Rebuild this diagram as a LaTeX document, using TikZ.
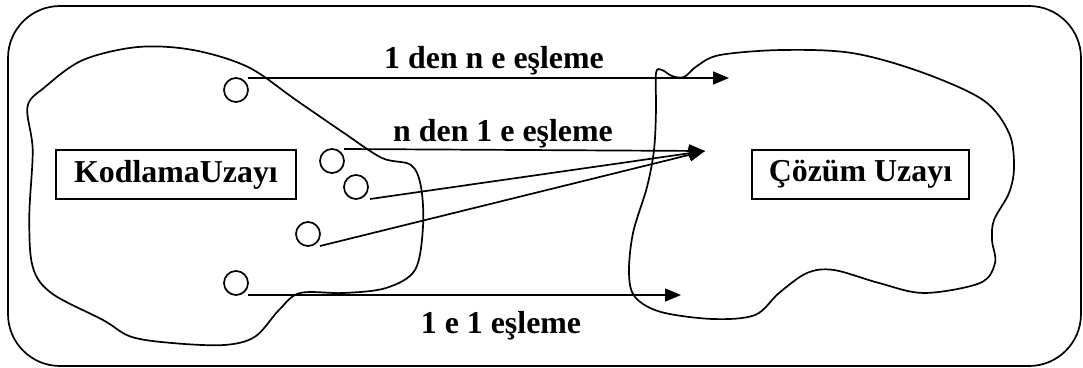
\documentclass[tikz,border=0pt]{standalone}
\usepackage{fontspec}
\setmainfont{Liberation Serif}
\usetikzlibrary{arrows.meta}
\begin{document}
\begin{tikzpicture}[x=1bp,y=-1bp,
  line width=1.7bp,
  lbl/.style={font=\fontsize{32}{36}\selectfont\bfseries, inner sep=0},
  box/.style={draw, lbl, minimum height=49bp, outer sep=0},
  dot/.style={draw, circle, minimum size=24bp, inner sep=0, outer sep=0},
  arr/.style={-{Triangle[length=16bp,width=13bp]}},
  blob/.style={smooth cycle, tension=0.55}]
\useasboundingbox (0,0) rectangle (1083,367);
% outer frame
\draw[rounded corners=52bp] (8,6) rectangle (1081,366);
% left blob (coding space)
\draw plot[blob] coordinates {
 (27.5,106.7) (32.7,150) (29.3,216.7) (32.7,266.7) (51.7,293.3) (103,320)
 (131,336.7) (172,343) (224,345) (255,336.7) (279,310) (300,293) (344,293)
 (386,288) (415,270) (423,227) (421,187) (411,165) (382,158) (344,133)
 (296,100) (248,67) (193,50) (138,47) (83,60) (45,87)};
% right blob (solution space)
\draw plot[blob] coordinates {
 (656,73) (662,70) (672,76) (684,77) (697,66) (720,55) (782,50) (852,53)
 (921,72) (983,100) (1009,133) (1014,167) (1009,193) (994,220) (992,240)
 (995,263) (980,283) (924,293) (879,283) (834,270) (807,273) (779,293)
 (755,315) (713,319) (661,312) (635,297) (629,273) (633,233) (647,187)
 (654,150) (656,110)};
% boxes
\node[box, minimum width=240bp] (kod) at (176,174.5) {KodlamaUzay\i};
\node[box, minimum width=217bp] (coz) at (860.5,174.5) {Çözüm Uzay\i};
% small circles
\node[dot] (c1) at (236,90) {};
\node[dot] (c2) at (332,161) {};
\node[dot] (c3) at (356,187) {};
\node[dot] (c4) at (308,234) {};
\node[dot] (c5) at (236,283) {};
% targets
\coordinate (t1) at (729,78);
\coordinate (t2) at (705,151);
\coordinate (t3) at (681,295);
% arrows
\draw[arr] ([xshift=12bp]c1.north) -- (t1);
\draw[arr] ([xshift=12bp]c2.north) -- (t2);
\draw[arr] ([xshift=14bp]c3.south) -- (t2);
\draw[arr] ([xshift=12bp]c4.south) -- (t2);
\draw[arr] ([xshift=12bp]c5.south) -- (t3);
% labels
\node[lbl, anchor=base] (l1) at (494,68) {1 den n e eşleme};
\node[lbl, anchor=base] (l2) at (503,141) {n den 1 e eşleme};
\node[lbl, anchor=base] (l3) at (501,333) {1 e 1 eşleme};
\end{tikzpicture}
\end{document}
